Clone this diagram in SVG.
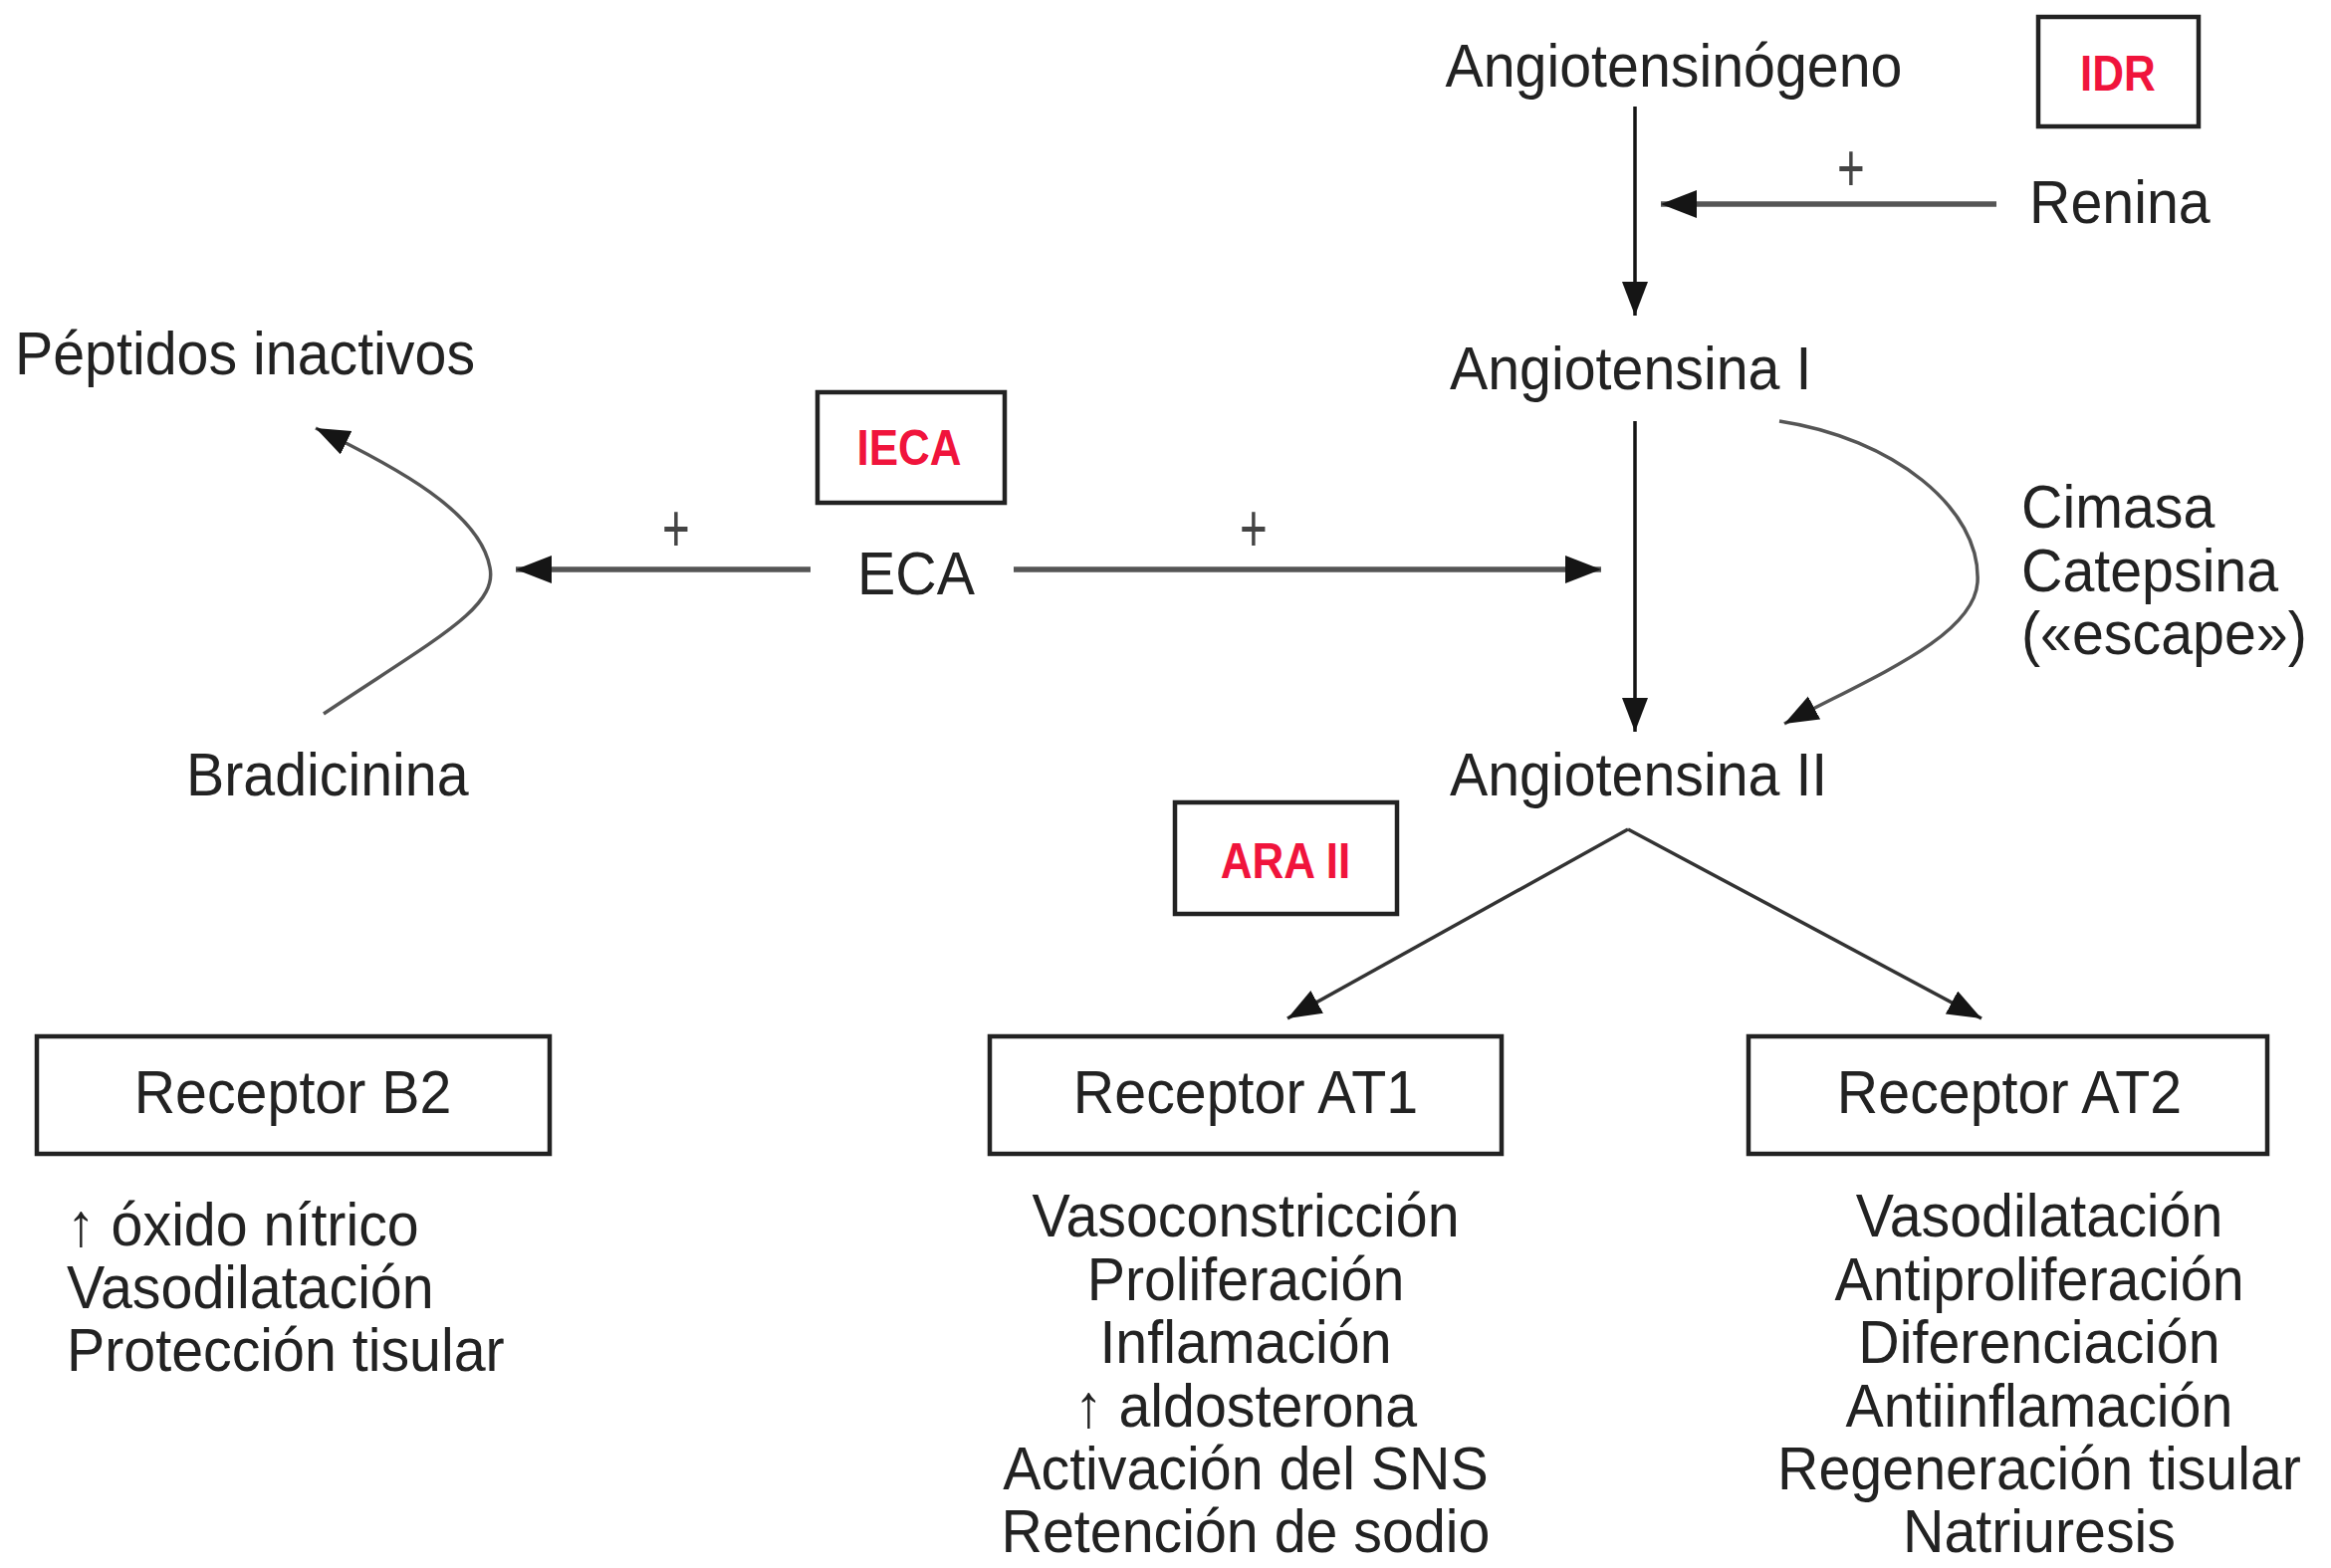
<svg xmlns="http://www.w3.org/2000/svg" width="2341" height="1575" viewBox="0 0 2341 1575">
<style>
  text { font-family: "Liberation Sans", Arial, sans-serif; fill: #222; font-size: 61px; transform-box: fill-box; transform: scaleX(0.94); transform-origin: left center; }
  .c { text-anchor: middle; transform-origin: center; }
  .red { fill: #f0143c; font-size: 50px; font-weight: bold; transform: scaleX(0.88); }
  .plus { font-size: 68px; fill: #444; text-anchor: middle; transform: scaleX(0.7); transform-origin: center; }
  .box { fill: #fff; stroke: #222; stroke-width: 4.5; }
  .dark { fill: none; stroke: #151515; stroke-width: 3.5; }
  .fork { fill: none; stroke: #333; stroke-width: 3.5; }
  .gray { fill: none; stroke: #555; stroke-width: 5.5; }
  .curve { fill: none; stroke: #555; stroke-width: 3.5; }
</style>
<defs>
  <marker id="ah" markerUnits="userSpaceOnUse" markerWidth="36" markerHeight="28" refX="34" refY="13" orient="auto">
    <path d="M0,0 L34,13 L0,26 Z" fill="#151515"/>
  </marker>
  <marker id="ahs" markerUnits="userSpaceOnUse" markerWidth="38" markerHeight="30" refX="36" refY="14" orient="auto">
    <path d="M0,0 L36,14 L0,28 Z" fill="#151515"/>
  </marker>
</defs>
<rect width="2341" height="1575" fill="#fff"/>

<g id="connectors">
  <line class="dark" x1="1642" y1="107" x2="1642" y2="317" marker-end="url(#ah)"/>
  <line class="gray" x1="2005" y1="205" x2="1668" y2="205" marker-end="url(#ahs)"/>
  <line class="dark" x1="1642" y1="423" x2="1642" y2="735" marker-end="url(#ah)"/>
  <path class="curve" d="M1787,423 C1900,440 1990,510 1986,585 C1982,640 1880,680 1792,727" marker-end="url(#ah)"/>
  <line class="gray" x1="814" y1="572" x2="518" y2="572" marker-end="url(#ahs)"/>
  <line class="gray" x1="1018" y1="572" x2="1608" y2="572" marker-end="url(#ahs)"/>
  <path class="curve" d="M325,717 C440,640 500,610 492,570 C482,515 400,470 317,430" marker-end="url(#ah)"/>
  <line class="fork" x1="1635" y1="833" x2="1293" y2="1023" marker-end="url(#ah)"/>
  <line class="fork" x1="1635" y1="833" x2="1990" y2="1023" marker-end="url(#ah)"/>
  <text class="plus" x="1859" y="192">+</text>
  <text class="plus" x="679" y="554">+</text>
  <text class="plus" x="1259" y="554">+</text>
</g>

<g id="angiotensinogeno"><text class="c" x="1681" y="87">Angiotensinógeno</text></g>
<g id="idr"><rect class="box" x="2047" y="17" width="161" height="110"/><text class="red c" x="2127" y="91">IDR</text></g>
<g id="renina"><text x="2038" y="224">Renina</text></g>
<g id="angiotensina1"><text x="1456" y="391">Angiotensina I</text></g>
<g id="cimasa">
  <text x="2030" y="530">Cimasa</text>
  <text x="2030" y="594">Catepsina</text>
  <text x="2030" y="657">(«escape»)</text>
</g>
<g id="peptidos"><text x="15" y="376">Péptidos inactivos</text></g>
<g id="ieca"><rect class="box" x="821" y="394" width="188" height="111"/><text class="red c" x="913" y="467">IECA</text></g>
<g id="eca"><text class="c" x="920" y="597">ECA</text></g>
<g id="bradicinina"><text x="187" y="799">Bradicinina</text></g>
<g id="angiotensina2"><text x="1456" y="799">Angiotensina II</text></g>
<g id="ara2"><rect class="box" x="1180" y="806" width="223" height="112"/><text class="red c" x="1291" y="882">ARA II</text></g>

<g id="receptorB2">
  <rect class="box" x="37" y="1041" width="515" height="118"/>
  <text class="c" x="294" y="1118">Receptor B2</text>
  <text x="67" y="1251">↑ óxido nítrico</text>
  <text x="67" y="1314">Vasodilatación</text>
  <text x="67" y="1377">Protección tisular</text>
</g>
<g id="receptorAT1">
  <rect class="box" x="994" y="1041" width="514" height="118"/>
  <text class="c" x="1251" y="1118">Receptor AT1</text>
  <text class="c" x="1251" y="1242">Vasoconstricción</text>
  <text class="c" x="1251" y="1306">Proliferación</text>
  <text class="c" x="1251" y="1369">Inflamación</text>
  <text class="c" x="1251" y="1433">↑ aldosterona</text>
  <text class="c" x="1251" y="1496">Activación del SNS</text>
  <text class="c" x="1251" y="1559">Retención de sodio</text>
</g>
<g id="receptorAT2">
  <rect class="box" x="1756" y="1041" width="521" height="118"/>
  <text class="c" x="2018" y="1118">Receptor AT2</text>
  <text class="c" x="2048" y="1242">Vasodilatación</text>
  <text class="c" x="2048" y="1306">Antiproliferación</text>
  <text class="c" x="2048" y="1369">Diferenciación</text>
  <text class="c" x="2048" y="1433">Antiinflamación</text>
  <text class="c" x="2048" y="1496">Regeneración tisular</text>
  <text class="c" x="2048" y="1559">Natriuresis</text>
</g>
</svg>
